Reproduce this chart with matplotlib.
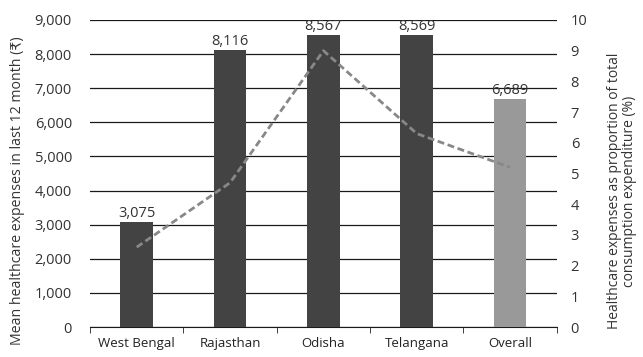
import numpy as np
from matplotlib import pyplot as plt

plt.rcParams['font.family'] = ['Open Sans', 'DejaVu Sans']
plt.rcParams['font.size'] = 10.5

states = ["West Bengal", "Rajasthan", "Odisha", "Telangana", "Overall"]
mean_expense = [3075, 8116, 8567, 8569, 6689]
share_pct = [2.6, 4.7, 9.0, 6.3, 5.2]

bar_colors = ["#434343"] * 4 + ["#999999"]

fig = plt.figure(figsize=(6.43, 3.57), dpi=100)
ax = fig.add_axes([0.14, 0.084, 0.726, 0.86])
x = np.arange(len(states))

ax.bar(x, mean_expense, width=0.35, color=bar_colors, zorder=3)
for xi, v in zip(x, mean_expense):
    ax.text(xi, v + 30, f"{v:,}", ha="center", va="bottom", color="#333333", fontsize=10.5)

ax.set_ylim(0, 9000)
ax.set_xlim(-0.5, len(states) - 0.5)
ax.set_yticks(np.arange(0, 9001, 1000))
ax.yaxis.set_major_formatter(plt.FuncFormatter(lambda v, p: f"{int(v):,}"))
ax.grid(axis="y", color="#1a1a1a", linewidth=0.9, zorder=0)
ax.set_axisbelow(True)
ax.tick_params(axis="y", length=0, pad=13, colors="#333333")
ax.set_xticks(x)
ax.set_xticklabels(states, fontsize=9.5)
ax.set_xticks(np.arange(-0.5, len(states), 1.0), minor=True)
ax.tick_params(axis="x", which="major", length=0, pad=7, colors="#222222")
ax.tick_params(axis="x", which="minor", length=4, direction="out", color="#222222")
for s in ["left", "right", "top"]:
    ax.spines[s].set_visible(False)
ax.spines["bottom"].set_color("#1a1a1a")
ax.set_ylabel("Mean healthcare expenses in last 12 month (₹)", color="#333333", fontsize=10.2)
ax.yaxis.set_label_coords(-0.14, 0.443)

ax2 = ax.twinx()
ax2.plot(x, share_pct, color="#888888", linestyle=(0, (2.5, 1.3)), linewidth=2, zorder=4)
ax2.set_ylim(0, 10)
ax2.set_yticks(np.arange(0, 11, 1))
ax2.tick_params(axis="y", length=0, pad=10, colors="#333333")
for s in ["left", "right", "top", "bottom"]:
    ax2.spines[s].set_visible(False)
ax2.set_ylabel("Healthcare expenses as proportion of total\nconsumption expenditure (%)",
               color="#333333", fontsize=10, linespacing=0.95)
ax2.yaxis.set_label_coords(1.108, 0.443)

fig.savefig("out.png", dpi=100)
